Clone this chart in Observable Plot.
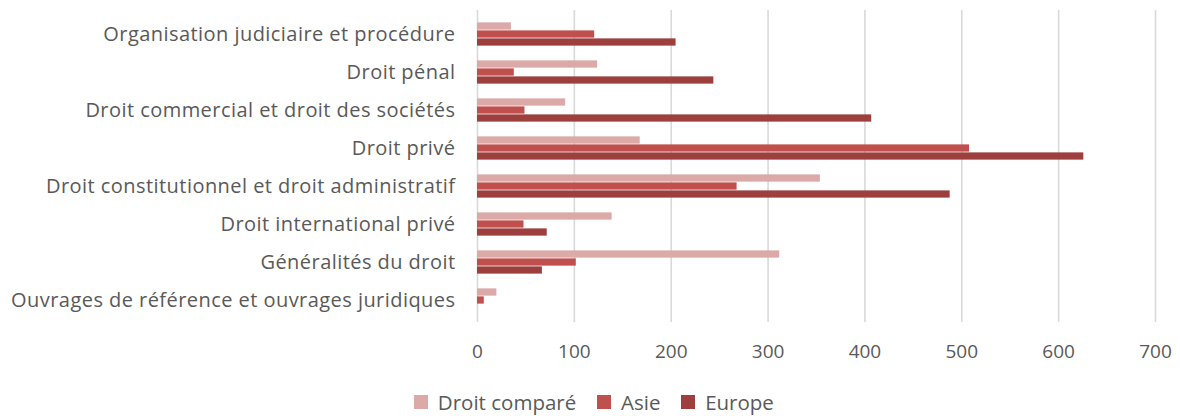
<!DOCTYPE html>
<html>
<head>
<meta charset="utf-8">
<script src="https://cdn.jsdelivr.net/npm/d3@7"></script>
<script src="https://cdn.jsdelivr.net/npm/@observablehq/plot@0.6"></script>
<style>
  html, body { margin: 0; padding: 0; background: #fff; overflow: hidden; }
  body { width: 1180px; height: 416px; font-family: "Open Sans", Lato, sans-serif; }
  #legend { display: flex; justify-content: center; margin-top: 7px; padding-left: 28px; }
  .ylab text { letter-spacing: 0.45px; }
</style>
</head>
<body>
<div id="chart"></div>
<div id="legend"></div>
<script>
const categories = [
  "Organisation judiciaire et procédure",
  "Droit pénal",
  "Droit commercial et droit des sociétés",
  "Droit privé",
  "Droit constitutionnel et droit administratif",
  "Droit international privé",
  "Généralités du droit",
  "Ouvrages de référence et ouvrages juridiques"
];
const seriesNames = ["Droit comparé", "Asie", "Europe"];
const droitCompare = [35, 124, 91, 168, 354, 139, 312, 20];
const asie = [121, 38, 49, 508, 268, 48, 102, 7];
const europe = [205, 244, 407, 626, 488, 72, 67, 0];
const xTicks = [0, 100, 200, 300, 400, 500, 600, 700];
const colors = ["#dba9a8", "#c0504d", "#9c3f3d"];

const values = [droitCompare, asie, europe];
const data = [];
seriesNames.forEach((s, si) => categories.forEach((c, ci) => data.push({category: c, series: s, value: values[si][ci]})));

const plotTop = 12, plotBottom = 322, barH = 8;
const bw = (plotBottom - plotTop) / categories.length;
const inset = (bw - barH) / 2;
const offsets = [-barH, 0, barH];
const font = "'Open Sans', Lato, sans-serif";

const marks = [
  Plot.ruleX(xTicks, {stroke: "#d9d9d9", strokeWidth: 1.6, insetTop: -2}),
  ...seriesNames.map((s, i) => Plot.barX(data.filter(d => d.series === s), {
    y: "category", x: "value", fill: colors[i], dy: offsets[i],
    insetTop: inset, insetBottom: inset
  })),
  Plot.axisX(xTicks, {tickSize: 0, tickPadding: 22, fontSize: 19, fill: "#595959", tickFormat: d => d, label: null}),
  Plot.axisY({tickSize: 0, tickPadding: 22, fontSize: 20, fill: "#595959", label: null, className: "ylab"})
];

const chart = Plot.plot({
  width: 1180,
  height: 378,
  marginLeft: 477,
  marginRight: 25,
  marginTop: plotTop,
  marginBottom: 378 - plotBottom,
  style: {fontFamily: font, background: "#fff"},
  x: {domain: [0, 700]},
  y: {domain: categories, padding: 0, range: [plotTop, plotBottom]},
  marks
});
document.getElementById("chart").appendChild(chart);

const legend = Plot.legend({
  color: {domain: seriesNames, range: colors, type: "ordinal"},
  swatchSize: 14,
  style: {fontFamily: font, fontSize: "20.5px", color: "#595959"}
});
document.getElementById("legend").appendChild(legend);
</script>
</body>
</html>
